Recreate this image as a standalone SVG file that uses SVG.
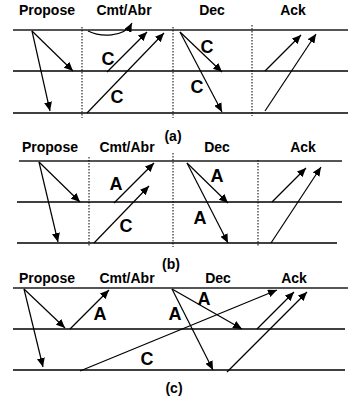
<svg xmlns="http://www.w3.org/2000/svg" width="356" height="402" viewBox="0 0 356 402">
<defs>
<marker id="ah" markerUnits="userSpaceOnUse" markerWidth="10" markerHeight="8" refX="9" refY="4" orient="auto">
<path d="M0,0 L9,4 L0,8 z" fill="#000"/>
</marker>
<style>
.hdr{font-family:"Liberation Sans",Arial,sans-serif;font-weight:bold;font-size:14px;text-anchor:middle;fill:#000}
.lbl{font-family:"Liberation Sans",Arial,sans-serif;font-weight:bold;font-size:18px;text-anchor:middle;fill:#000}
.cap{font-family:"Liberation Sans",Arial,sans-serif;font-weight:bold;font-size:14px;text-anchor:middle;fill:#000}
.top{stroke:#555;stroke-width:2;fill:none}
.ln{stroke:#000;stroke-width:1.4;fill:none}
.dot{stroke:#000;stroke-width:1;stroke-dasharray:1.5,1.5;fill:none}
.ar{stroke:#000;stroke-width:1.2;fill:none;marker-end:url(#ah)}
</style>
</defs>
<rect width="356" height="402" fill="#fff"/>

<!-- Panel (a) -->
<g id="panel-a">
<g id="a-lines">
<line class="top" x1="13" y1="30" x2="348" y2="30"/>
<line class="ln" x1="13" y1="71" x2="348" y2="71"/>
<line class="ln" x1="13" y1="113" x2="348" y2="113"/>
<line class="dot" x1="82" y1="27" x2="82" y2="118"/>
<line class="dot" x1="173" y1="27" x2="173" y2="118"/>
<line class="dot" x1="252" y1="25" x2="252" y2="116"/>
</g>
<g id="a-headers">
<text class="hdr" x="47" y="15">Propose</text>
<text class="hdr" x="124" y="15">Cmt/Abr</text>
<text class="hdr" x="212" y="15">Dec</text>
<text class="hdr" x="293" y="15">Ack</text>
</g>
<g id="a-connectors">
<line class="ar" x1="32" y1="31" x2="73" y2="71"/>
<line class="ar" x1="32" y1="31" x2="50" y2="111"/>
<path class="ar" d="M88 31 C100 37 124 38 132 23"/>
<line class="ar" x1="107" y1="72" x2="147" y2="32"/>
<line class="ar" x1="87" y1="113" x2="164" y2="33"/>
<line class="ar" x1="180" y1="32" x2="222" y2="72"/>
<line class="ar" x1="180" y1="32" x2="222" y2="112"/>
<line class="ar" x1="265" y1="71" x2="301" y2="35"/>
<line class="ar" x1="265" y1="111" x2="316" y2="34"/>
</g>
<g id="a-labels">
<text class="lbl" x="108" y="65">C</text>
<text class="lbl" x="117" y="103">C</text>
<text class="lbl" x="207" y="53">C</text>
<text class="lbl" x="197" y="93">C</text>
<text class="cap" x="173" y="141">(a)</text>
</g>
</g>

<!-- Panel (b) -->
<g id="panel-b">
<g id="b-lines">
<line class="top" x1="19" y1="161" x2="342" y2="161"/>
<line class="ln" x1="17" y1="202" x2="342" y2="202"/>
<line class="ln" x1="17" y1="243" x2="337" y2="243"/>
<line class="dot" x1="89" y1="157" x2="89" y2="247"/>
<line class="dot" x1="173" y1="153" x2="173" y2="247"/>
<line class="dot" x1="258" y1="160" x2="258" y2="246"/>
</g>
<g id="b-headers">
<text class="hdr" x="50" y="152">Propose</text>
<text class="hdr" x="127" y="152">Cmt/Abr</text>
<text class="hdr" x="217" y="152">Dec</text>
<text class="hdr" x="303" y="152">Ack</text>
</g>
<g id="b-connectors">
<line class="ar" x1="39" y1="162" x2="80" y2="202"/>
<line class="ar" x1="39" y1="162" x2="58" y2="242"/>
<line class="ar" x1="114" y1="203" x2="154" y2="163"/>
<line class="ar" x1="94" y1="243" x2="149" y2="186"/>
<line class="ar" x1="187" y1="163" x2="228" y2="203"/>
<line class="ar" x1="187" y1="163" x2="228" y2="243"/>
<line class="ar" x1="272" y1="202" x2="306" y2="168"/>
<line class="ar" x1="271" y1="243" x2="321" y2="167"/>
</g>
<g id="b-labels">
<text class="lbl" x="116" y="190">A</text>
<text class="lbl" x="126" y="232">C</text>
<text class="lbl" x="217" y="182">A</text>
<text class="lbl" x="200" y="224">A</text>
<text class="cap" x="171" y="269">(b)</text>
</g>
</g>

<!-- Panel (c) -->
<g id="panel-c">
<g id="c-lines">
<line class="top" x1="13" y1="288" x2="348" y2="288"/>
<line class="ln" x1="13" y1="329" x2="345" y2="329"/>
<line class="ln" x1="13" y1="370" x2="345" y2="370"/>
</g>
<g id="c-headers">
<text class="hdr" x="47" y="283">Propose</text>
<text class="hdr" x="127" y="283">Cmt/Abr</text>
<text class="hdr" x="218" y="283">Dec</text>
<text class="hdr" x="294" y="283">Ack</text>
</g>
<g id="c-connectors">
<line class="ar" x1="24" y1="289" x2="65" y2="328"/>
<line class="ar" x1="24" y1="289" x2="43" y2="367"/>
<line class="ar" x1="70" y1="329" x2="109" y2="290"/>
<line class="ar" x1="80" y1="371" x2="277" y2="290"/>
<line class="ar" x1="172" y1="289" x2="242" y2="329"/>
<line class="ar" x1="172" y1="289" x2="213" y2="370"/>
<line class="ar" x1="257" y1="329" x2="294" y2="292"/>
<line class="ar" x1="227" y1="372" x2="307" y2="292"/>
</g>
<g id="c-labels">
<text class="lbl" x="100" y="320">A</text>
<text class="lbl" x="175" y="320">A</text>
<text class="lbl" x="204" y="305">A</text>
<text class="lbl" x="147" y="365">C</text>
<text class="cap" x="174" y="393">(c)</text>
</g>
</g>
</svg>
